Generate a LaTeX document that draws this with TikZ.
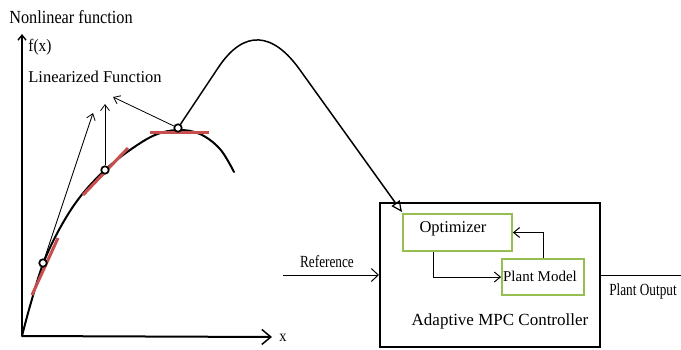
\documentclass[tikz,border=0pt]{standalone}
\usepackage{fontspec}
\setmainfont{Liberation Serif}
\usetikzlibrary{arrows.meta,calc}
\definecolor{tanred}{RGB}{200,78,78}
\definecolor{boxgreen}{RGB}{150,190,80}
\tikzset{
  curveline/.style={line width=2pt, line cap=round},
  tangent/.style={line width=3pt, tanred},
  opnode/.style={circle, draw, line width=1.7pt, fill=white, minimum size=7.5pt, inner sep=0pt},
  thinarrow/.style={line width=0.8pt, -{Straight Barb[length=6pt,width=9pt,line width=0.8pt]}},
  axis/.style={line width=2pt},
  bigbox/.style={draw, line width=2pt, minimum width=220pt, minimum height=144pt, inner sep=0pt},
  greenbox/.style={draw=boxgreen, line width=1.8pt, inner sep=0pt},
  flow/.style={line width=1pt, -{Straight Barb[length=6pt,width=10pt,line width=1pt]}},
  lbl/.style={inner sep=0pt, font=\fontsize{16}{18}\selectfont},
}
\begin{document}
\begin{tikzpicture}[x=1pt,y=-1pt]
\useasboundingbox (0,0) rectangle (681,349);
% axes
\coordinate (origin) at (22,336);
\coordinate (ytop) at (22,34);
\coordinate (xend) at (272,337);
\draw[axis, -{Straight Barb[length=5pt,width=8pt,line width=1.4pt]}] (origin) -- (ytop);
\draw[axis, -{Straight Barb[length=9pt,width=15pt,line width=1.5pt]}] (origin) -- (xend);
% labels
\node[lbl] (title) at (71,17) {\fontsize{18.5}{20}\selectfont\scalebox{0.88}[1]{Nonlinear function}};
\node[lbl] (fx) at (40,47) {\fontsize{17.5}{19}\selectfont\scalebox{0.88}[1]{f(x)}};
\node[lbl] (xl) at (283,338) {\fontsize{16}{18}\selectfont\scalebox{0.9}[1]{x}};
\node[lbl] (lin) at (95,77) {\fontsize{16.5}{18}\selectfont Linearized Function};
% nonlinear curve
\draw[curveline] plot[smooth, tension=0.6] coordinates {(22,336) (30,306) (43,264) (60,228) (80,197) (105,170) (130,150) (155,135) (178,130) (200,134) (220,149) (234,172)};
% tangent lines
\draw[tangent] (32,295) -- (58,238);
\draw[tangent] (83,195) -- (128,148);
\draw[tangent] (150,132) -- (209,132);
% operating points
\node[opnode] (c1) at (43,263) {};
\node[opnode] (c2) at (105,170) {};
\node[opnode] (c3) at (178,128) {};
% linearization arrows
\coordinate (t1) at (93,113);
\coordinate (t2) at (105,104);
\coordinate (t3) at (113,97);
\draw[thinarrow] (c1) -- (t1);
\draw[thinarrow] (c2) -- (t2);
\draw[thinarrow] (c3) -- (t3);
% controller
\node[bigbox] (mpc) at (490,275) {};
\node[greenbox, minimum width=109pt, minimum height=37pt] (opt) at (457.5,232.5) {};
\node[lbl, font=\fontsize{16.5}{18}\selectfont] (optl) at (453,229) {Optimizer};
\node[greenbox, minimum width=82pt, minimum height=36pt] (pm) at (543,277) {};
\node[lbl, font=\fontsize{15}{17}\selectfont] (pml) at (540,276) {Plant Model};
\node[lbl, font=\fontsize{17}{19}\selectfont] (mpcl) at (500,321) {Adaptive MPC Controller};
\draw[flow] ($(opt.south west)!0.284!(opt.south east)$) |- (pm.west);
\draw[flow] (pm.north) |- (opt.east);
% big curved arrow
\coordinate (hump1) at (218,68);
\coordinate (hump2) at (300,70);
\coordinate (bigtip) at (402,212);
\draw[curveline, line width=1.5pt, -{Triangle[open,length=11pt,width=10pt,line width=1.2pt]}]
  (c3) -- (hump1) .. controls (244,28.5) and (273,32) .. (hump2) -- (bigtip);
% reference and output
\coordinate (refstart) at (283,275);
\coordinate (outend) at (681,275);
\draw[line width=1pt, -{Straight Barb[length=7pt,width=13pt,line width=1pt]}] (refstart) -- (mpc.west);
\node[lbl] (refl) at (327,262) {\fontsize{17}{19}\selectfont\scalebox{0.78}[1]{Reference}};
\draw[line width=1pt] (mpc.east) -- (outend);
\node[lbl] (outl) at (643,291) {\fontsize{17}{19}\selectfont\scalebox{0.78}[1]{Plant Output}};
\end{tikzpicture}
\end{document}
